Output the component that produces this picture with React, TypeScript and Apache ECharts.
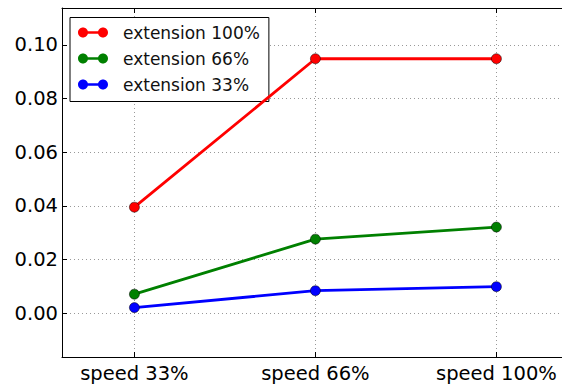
import React, { useEffect, useRef } from "react";
import * as echarts from "echarts";

const categories = ["speed 33%", "speed 66%", "speed 100%"];
const seriesNames = ["extension 100%", "extension 66%", "extension 33%"];
const ext100 = [0.0395, 0.0948, 0.0948];
const ext66 = [0.0071, 0.0276, 0.0321];
const ext33 = [0.0021, 0.0084, 0.0099];
const yTicks = [0, 0.02, 0.04, 0.06, 0.08, 0.1];
const xTicks = [0, 1, 2];
const colors = ["#ff0000", "#008000", "#0000ff"];

const FONT = "DejaVu Sans";
const legendIcon =
  "path://M0,5C0,2.24 2.24,0 5,0C7.76,0 10,2.24 10,5C10,7.76 7.76,10 5,10C2.24,10 0,7.76 0,5Z" +
  "M20,5C20,2.24 22.24,0 25,0C27.76,0 30,2.24 30,5C30,7.76 27.76,10 25,10C22.24,10 20,7.76 20,5Z" +
  "M5,3.7L25,3.7L25,6.3L5,6.3Z";

export default function App() {
  const ref = useRef<HTMLDivElement>(null);
  useEffect(() => {
    if (!ref.current) return;
    const chart = echarts.init(ref.current, null, { renderer: "svg" });
    const values = [ext100, ext66, ext33];
    const gridLine = { show: true, lineStyle: { color: "#999", type: [1, 3] as any, width: 1 } };
    chart.setOption({
      animation: false,
      grid: { left: 62, top: 8, right: 0, height: 349, containLabel: false },
      legend: {
        left: 70,
        top: 17.5,
        orient: "vertical",
        backgroundColor: "#fff",
        borderColor: "#000",
        borderWidth: 1,
        borderRadius: 0,
        padding: [6.5, 9, 8.5, 8],
        itemWidth: 30,
        itemHeight: 10,
        itemGap: 9,
        icon: legendIcon,
        itemStyle: { borderWidth: 0 },
        textStyle: { fontFamily: FONT, fontSize: 17, color: "#111", lineHeight: 16, padding: [0, 0, 0, 10] },
        data: seriesNames.map((n, i) => ({
          name: n,
          icon: legendIcon,
          itemStyle: { color: colors[i], borderWidth: 0 },
        })),
      },
      xAxis: [
        {
          type: "value",
          min: -0.4,
          max: 2.3624,
          axisLine: { show: true, onZero: false, lineStyle: { color: "#000", width: 1 } },
          axisTick: { show: true, inside: true, length: 5, customValues: xTicks, lineStyle: { color: "#000" } },
          axisLabel: {
            customValues: xTicks,
            formatter: (v: number) => categories[Math.round(v)] ?? "",
            fontFamily: FONT,
            fontSize: 19.5,
            color: "#000",
            margin: 6,
          },
          splitLine: gridLine,
        },
        {
          type: "value",
          position: "top",
          min: -0.4,
          max: 2.3624,
          axisLine: { show: true, onZero: false, lineStyle: { color: "#000", width: 1 } },
          axisTick: { show: true, inside: true, length: 5, customValues: xTicks, lineStyle: { color: "#000" } },
          axisLabel: { show: false },
          splitLine: { show: false },
        },
      ],
      yAxis: {
        type: "value",
        min: -0.0163,
        max: 0.1137,
        axisLine: { show: true, onZero: false, lineStyle: { color: "#000", width: 1 } },
        axisTick: { show: true, inside: true, length: 5, customValues: yTicks, lineStyle: { color: "#000" } },
        axisLabel: {
          customValues: yTicks,
          formatter: (v: number) => v.toFixed(2),
          fontFamily: FONT,
          fontSize: 19.5,
          color: "#000",
          margin: 4,
        },
        splitLine: gridLine,
      },
      series: values.map((vals, i) => ({
        name: seriesNames[i],
        type: "line",
        data: vals.map((v, j) => [j, v]),
        color: colors[i],
        symbol: "circle",
        symbolSize: 10,
        z: 10 - i,
        lineStyle: { width: 2.8, color: colors[i] },
        itemStyle: { color: colors[i], borderColor: "#000", borderWidth: 0.5 },
      })),
    });
    return () => chart.dispose();
  }, []);
  return <div ref={ref} style={{ width: 562, height: 387, position: "absolute", left: 0, top: 0 }} />;
}
